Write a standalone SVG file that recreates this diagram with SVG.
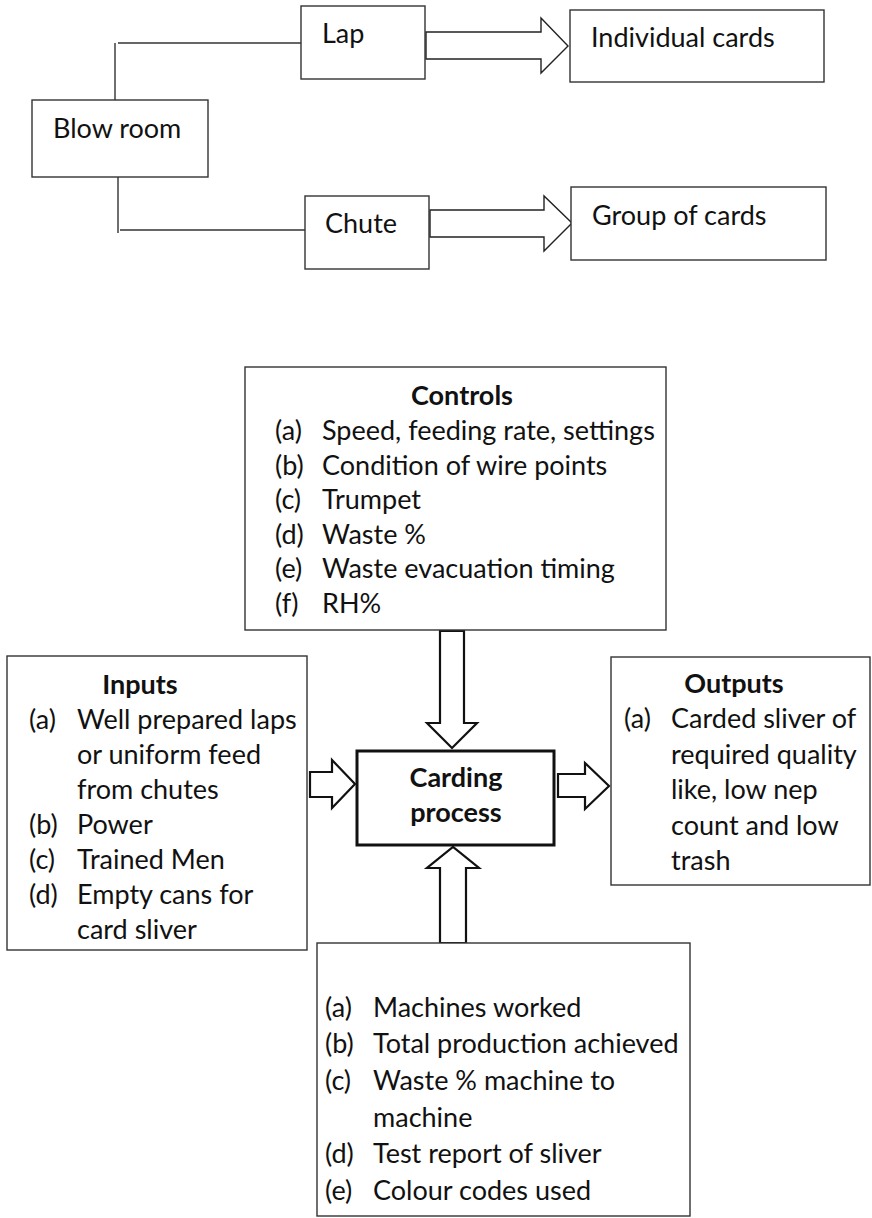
<svg xmlns="http://www.w3.org/2000/svg" width="872" height="1218" viewBox="0 0 872 1218">
<style>
.box{fill:#fff;stroke:#333;stroke-width:1.4}
.thick{fill:#fff;stroke:#111;stroke-width:3}
.arr{fill:#fff;stroke:#222;stroke-width:1.4;stroke-linejoin:miter}
.arr2{fill:#fff;stroke:#111;stroke-width:2.2;stroke-linejoin:miter}
.ln{stroke:#333;stroke-width:1.4;fill:none}
text{font-family:Lato,"Liberation Sans",sans-serif;font-size:27px;fill:#111}
.b{font-weight:bold}
.m{text-anchor:middle}
</style>
<rect width="872" height="1218" fill="#fff"/>
<g id="connectors">
<line class="ln" x1="115" y1="43" x2="115" y2="100"/>
<line class="ln" x1="118" y1="43" x2="301" y2="43"/>
<line class="ln" x1="118" y1="177" x2="118" y2="233"/>
<line class="ln" x1="120" y1="230" x2="305" y2="230"/>
<polygon class="arr" points="426,32 541,32 541,18 568,46 541,73 541,59 426,59"/>
<polygon class="arr" points="430,210 544,210 544,196 572,223 544,251 544,237 430,237"/>
<polygon class="arr2" points="440,631 464,631 464,723 477,723 452,748 427,723 440,723"/>
<polygon class="arr2" points="310,772 332,772 332,760 355,784 332,808 332,797 310,797"/>
<polygon class="arr2" points="558,774 585,774 585,763 609,786 585,809 585,797 558,797"/>
<polygon class="arr2" points="440,943 440,868 427,868 453,847 479,868 466,868 466,943"/>
</g>
<g id="blowroom">
<rect class="box" x="32" y="100" width="176" height="77"/>
<text x="53" y="138">Blow room</text>
</g>
<g id="lap">
<rect class="box" x="301" y="6" width="124" height="73"/>
<text x="322" y="43">Lap</text>
</g>
<g id="chute">
<rect class="box" x="305" y="196" width="124" height="73"/>
<text x="325" y="233">Chute</text>
</g>
<g id="individual">
<rect class="box" x="570" y="10" width="254" height="72"/>
<text x="591" y="47">Individual cards</text>
</g>
<g id="group">
<rect class="box" x="571" y="187" width="255" height="73"/>
<text x="592" y="225">Group of cards</text>
</g>
<g id="controls">
<rect class="box" x="245" y="367" width="421" height="263"/>
<text class="b m" x="462" y="405">Controls</text>
<text x="275" y="440">(a)</text><text x="322" y="440">Speed, feeding rate, settings</text>
<text x="275" y="474.5">(b)</text><text x="322" y="474.5">Condition of wire points</text>
<text x="275" y="509">(c)</text><text x="322" y="509">Trumpet</text>
<text x="275" y="543.5">(d)</text><text x="322" y="543.5">Waste %</text>
<text x="275" y="578">(e)</text><text x="322" y="578">Waste evacuation timing</text>
<text x="275" y="612.5">(f)</text><text x="322" y="612.5">RH%</text>
</g>
<g id="inputs">
<rect class="box" x="7" y="656" width="300" height="294"/>
<text class="b m" x="140" y="694">Inputs</text>
<text x="29" y="729">(a)</text><text x="77" y="729">Well prepared laps</text>
<text x="77" y="764">or uniform feed</text>
<text x="77" y="799">from chutes</text>
<text x="29" y="834">(b)</text><text x="77" y="834">Power</text>
<text x="29" y="869">(c)</text><text x="77" y="869">Trained Men</text>
<text x="29" y="904">(d)</text><text x="77" y="904">Empty cans for</text>
<text x="77" y="939">card sliver</text>
</g>
<g id="carding">
<rect class="thick" x="357" y="751" width="197" height="94"/>
<text class="b m" x="456" y="787">Carding</text>
<text class="b m" x="456" y="822">process</text>
</g>
<g id="outputs">
<rect class="box" x="611" y="657" width="259" height="228"/>
<text class="b m" x="734" y="693">Outputs</text>
<text x="624" y="728">(a)</text><text x="671" y="728">Carded sliver of</text>
<text x="671" y="763.5">required quality</text>
<text x="671" y="799">like, low nep</text>
<text x="671" y="834.5">count and low</text>
<text x="671" y="870">trash</text>
</g>
<g id="records">
<rect class="box" x="317" y="943" width="373" height="273"/>
<text x="325" y="1017">(a)</text><text x="373" y="1017">Machines worked</text>
<text x="325" y="1053">(b)</text><text x="373" y="1053">Total production achieved</text>
<text x="325" y="1090">(c)</text><text x="373" y="1090">Waste % machine to</text>
<text x="373" y="1127">machine</text>
<text x="325" y="1163">(d)</text><text x="373" y="1163">Test report of sliver</text>
<text x="325" y="1200">(e)</text><text x="373" y="1200">Colour codes used</text>
</g>
</svg>
